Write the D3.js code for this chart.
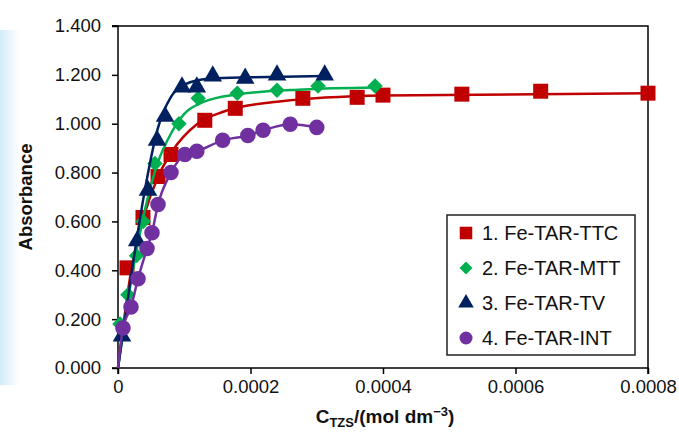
<!DOCTYPE html>
<html>
<head>
<meta charset="utf-8">
<script src="https://cdn.jsdelivr.net/npm/d3@7"></script>
<style>
  body { margin: 0; background: #fff; }
  svg { display: block; font-family: "Liberation Sans", Arial, sans-serif; }
</style>
</head>
<body>
<svg id="chart" width="679" height="432"></svg>
<script>
// measured points, x in mol dm-3, y absorbance
var ttcX = [0.0000136, 0.0000377, 0.0000604, 0.00008, 0.000131, 0.000177, 0.000279, 0.000361, 0.0004, 0.000519, 0.000638, 0.0008];
var ttcY = [0.41, 0.616, 0.784, 0.874, 1.014, 1.063, 1.104, 1.108, 1.117, 1.121, 1.133, 1.125];
var mttX = [0.000003, 0.000015, 0.000028, 0.000038, 0.0000558, 0.000092, 0.000121, 0.00018, 0.00024, 0.000302, 0.000388];
var mttY = [0.18, 0.30, 0.46, 0.60, 0.837, 1.00, 1.104, 1.125, 1.137, 1.154, 1.154];
var tvX = [0.000006, 0.000029, 0.0000453, 0.0000589, 0.000071, 0.0000966, 0.000119, 0.000143, 0.000192, 0.00024, 0.000312];
var tvY = [0.13, 0.52, 0.727, 0.932, 1.03, 1.15, 1.15, 1.195, 1.186, 1.199, 1.199];
var intX = [0.0000075, 0.0000196, 0.0000302, 0.0000438, 0.0000513, 0.0000604, 0.00008, 0.000101, 0.000119, 0.000158, 0.000196, 0.000219, 0.00026, 0.0003];
var intY = [0.164, 0.25, 0.365, 0.489, 0.554, 0.669, 0.80, 0.874, 0.887, 0.932, 0.952, 0.973, 0.998, 0.985];

// fitted curves
var ttcFitX = [0, 0.00002, 0.00004, 0.00006, 0.00008, 0.00012, 0.00016, 0.00024, 0.0004, 0.0008];
var ttcFitY = [0, 0.40, 0.63, 0.78, 0.88, 1.00, 1.05, 1.09, 1.115, 1.125];
var mttFitX = [0, 0.00002, 0.00004, 0.00006, 0.00008, 0.0001, 0.00013, 0.00018, 0.00028, 0.000388];
var mttFitY = [0, 0.36, 0.64, 0.84, 0.96, 1.04, 1.09, 1.12, 1.14, 1.148];
var tvFitX = [0, 0.00002, 0.00004, 0.00006, 0.00008, 0.0001, 0.00014, 0.0002, 0.000312];
var tvFitY = [0, 0.38, 0.72, 0.98, 1.11, 1.16, 1.185, 1.19, 1.195];
var intFitX = [0].concat(intX);
var intFitY = [0].concat(intY);

var seriesNames = ["1. Fe-TAR-TTC", "2. Fe-TAR-MTT", "3. Fe-TAR-TV", "4. Fe-TAR-INT"];
var seriesColors = ["#c00000", "#00b050", "#002060", "#7030a0"];
var xTicks = [0, 0.0002, 0.0004, 0.0006, 0.0008];
var xTickLabels = ["0", "0.0002", "0.0004", "0.0006", "0.0008"];
var yTicks = [0, 0.2, 0.4, 0.6, 0.8, 1.0, 1.2, 1.4];

var margin = {top: 26, right: 31, bottom: 64, left: 118};
var svg = d3.select("#chart");
var W = 679, H = 432;
var width = W - margin.left - margin.right;
var height = H - margin.top - margin.bottom;

// faint blue page tint
var defs = svg.append("defs");
var grad = defs.append("linearGradient").attr("id", "tint").attr("x1", 0).attr("x2", 1);
grad.append("stop").attr("offset", 0).attr("stop-color", "#d4ebf9");
grad.append("stop").attr("offset", 1).attr("stop-color", "#ffffff");
svg.append("rect").attr("width", W).attr("height", H).attr("fill", "#fff");
svg.append("rect").attr("x", 0).attr("y", 30).attr("width", 20).attr("height", 355).attr("fill", "url(#tint)");

var g = svg.append("g").attr("transform", "translate(" + margin.left + "," + margin.top + ")");

var x = d3.scaleLinear().domain([0, 0.0008]).range([0, width]);
var y = d3.scaleLinear().domain([0, 1.4]).range([height, 0]);

// frame top/right
g.append("path")
    .attr("d", "M" + (-6) + ",0H" + width + "V" + height)
    .attr("fill", "none").attr("stroke", "#000").attr("stroke-width", 1.5);

var xAxis = g.append("g").attr("class", "x axis")
    .attr("transform", "translate(0," + height + ")")
    .call(d3.axisBottom(x).tickValues(xTicks).tickSize(6).tickPadding(6)
        .tickFormat(function (d, i) { return xTickLabels[i]; }));
var yAxis = g.append("g").attr("class", "y axis")
    .call(d3.axisLeft(y).tickValues(yTicks).tickSize(6).tickPadding(11)
        .tickFormat(d3.format(".3f")));

[xAxis, yAxis].forEach(function (a) {
    a.select(".domain").attr("stroke", "#000").attr("stroke-width", 1.5);
    a.selectAll(".tick line").attr("stroke", "#000").attr("stroke-width", 1.5);
    a.selectAll("text").attr("font-size", 18.5).attr("fill", "#111")
        .attr("font-family", "'Liberation Sans', Arial, sans-serif");
});
xAxis.selectAll(".domain").attr("d", "M0,6V0H" + width + "V6");
yAxis.selectAll(".domain").attr("d", "M-6,0H0V" + height + "H-6");

var diamond = {
    draw: function (ctx, size) {
        var r = Math.sqrt(size) / Math.SQRT2;
        ctx.moveTo(0, -r); ctx.lineTo(r, 0); ctx.lineTo(0, r); ctx.lineTo(-r, 0); ctx.closePath();
    }
};

var series = [
    {px: ttcX, py: ttcY, fx: ttcFitX, fy: ttcFitY, shape: d3.symbolSquare, size: 225},
    {px: mttX, py: mttY, fx: mttFitX, fy: mttFitY, shape: diamond, size: 120},
    {px: tvX, py: tvY, fx: tvFitX, fy: tvFitY, shape: d3.symbolTriangle, size: 150},
    {px: intX, py: intY, fx: intFitX, fy: intFitY, shape: d3.symbolCircle, size: 190}
];

var line = d3.line()
    .x(function (d) { return x(d[0]); })
    .y(function (d) { return y(d[1]); })
    .curve(d3.curveMonotoneX);

series.forEach(function (s, i) {
    var fit = s.fx.map(function (v, j) { return [v, s.fy[j]]; });
    var pts = s.px.map(function (v, j) { return [v, s.py[j]]; });
    g.append("path")
        .datum(fit)
        .attr("d", line)
        .attr("fill", "none")
        .attr("stroke", seriesColors[i])
        .attr("stroke-width", 2.5);
    g.selectAll(".pt" + i)
        .data(pts)
        .enter().append("path")
        .attr("class", "pt" + i)
        .attr("transform", function (d) { return "translate(" + x(d[0]) + "," + y(d[1]) + ")"; })
        .attr("d", d3.symbol().type(s.shape).size(s.size))
        .attr("fill", seriesColors[i]);
});

// legend
var lg = svg.append("g").attr("transform", "translate(447,215)");
lg.append("rect").attr("width", 188).attr("height", 140)
    .attr("fill", "#fff").attr("stroke", "#222").attr("stroke-width", 1.5);
seriesNames.forEach(function (name, i) {
    var cy = 18 + i * 35;
    lg.append("path")
        .attr("transform", "translate(19," + cy + ")")
        .attr("d", d3.symbol().type(series[i].shape).size(series[i].size * 0.7))
        .attr("fill", seriesColors[i]);
    lg.append("text")
        .attr("x", 35).attr("y", cy + 7)
        .attr("font-size", 20).attr("fill", "#111")
        .text(name);
});

// axis titles
svg.append("text")
    .attr("transform", "translate(32,197) rotate(-90)")
    .attr("text-anchor", "middle")
    .attr("font-size", 18.5).attr("font-weight", "bold").attr("fill", "#111")
    .text("Absorbance");

var xt = svg.append("text")
    .attr("x", 385).attr("y", 423)
    .attr("text-anchor", "middle")
    .attr("font-size", 19).attr("font-weight", "bold").attr("fill", "#111");
xt.append("tspan").text("C");
xt.append("tspan").attr("font-size", 13).attr("dy", 4).text("TZS");
xt.append("tspan").attr("dy", -4).text("/(mol dm");
xt.append("tspan").attr("font-size", 13).attr("dy", -7).text("\u22123");
xt.append("tspan").attr("dy", 7).text(")");
</script>
</body>
</html>
